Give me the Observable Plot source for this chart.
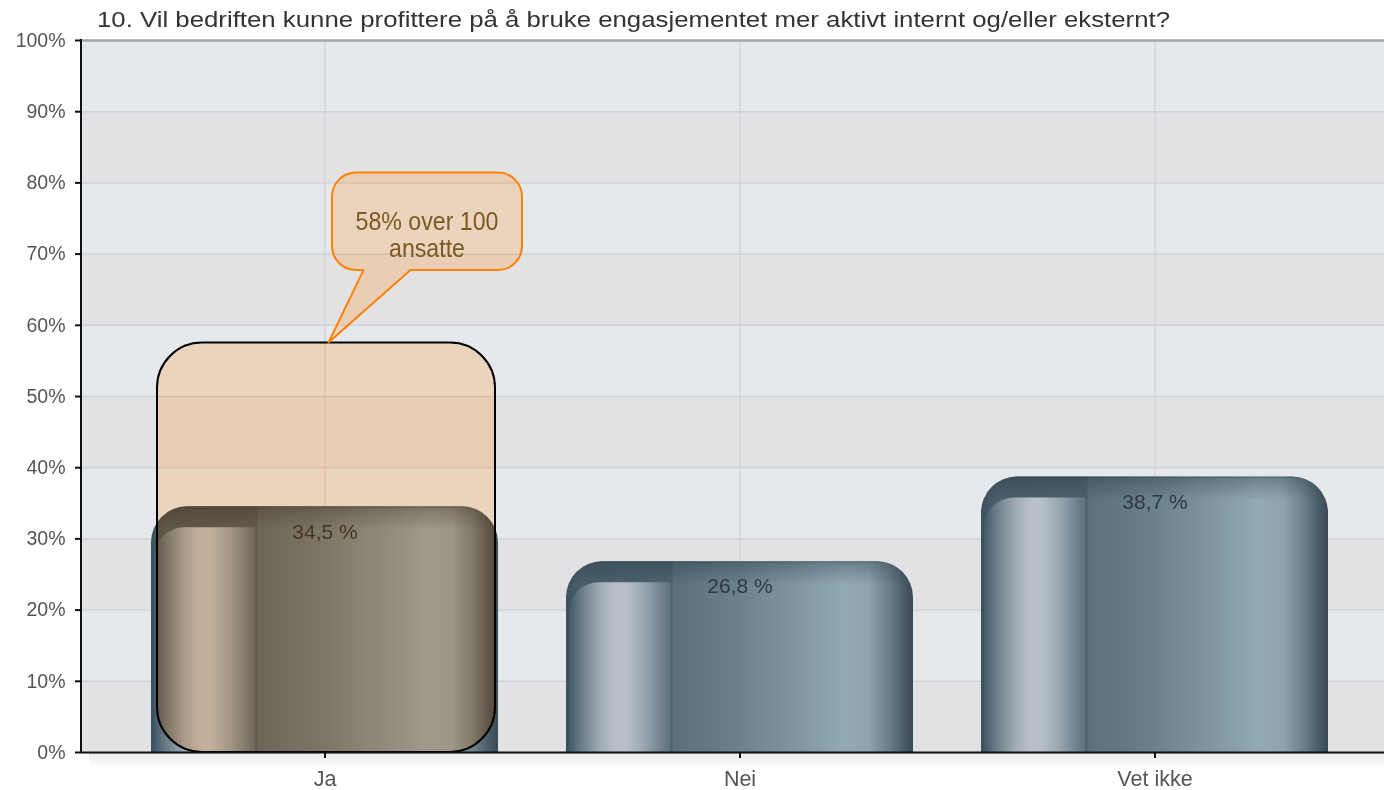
<!DOCTYPE html>
<html>
<head>
<meta charset="utf-8">
<script src="https://cdn.jsdelivr.net/npm/d3@7"></script>
<script src="https://cdn.jsdelivr.net/npm/@observablehq/plot@0.6"></script>
<style>
  html, body { margin: 0; padding: 0; background: #fff; }
  #chart svg { display: block; }
</style>
</head>
<body>
<div id="chart"></div>
<script>
// ---------- data ----------
const title = "10. Vil bedriften kunne profittere på å bruke engasjementet mer aktivt internt og/eller eksternt?";
const categories = ["Ja", "Nei", "Vet ikke"];
const values = [34.5, 26.8, 38.7];
const yTicks = [0, 10, 20, 30, 40, 50, 60, 70, 80, 90, 100];
const highlightCategory = ["Ja"];
const highlightValue = [57.5];
const calloutLines = ["58% over 100", "ansatte"];

// tables built from the arrays
const bars = categories.map((c, i) => ({cat: c, value: values[i]}));
const highlight = highlightCategory.map((c, i) => ({cat: c, value: highlightValue[i]}));
const bands = yTicks.slice(0, -1).map((lo, i) => ({lo, hi: yTicks[i + 1], blue: (lo / 10) % 2 === 1}));

// ---------- helpers ----------
const NS = "http://www.w3.org/2000/svg";
function el(name, attrs, parent) {
  const e = document.createElementNS(NS, name);
  for (const k in attrs) e.setAttribute(k, attrs[k]);
  if (parent) parent.appendChild(e);
  return e;
}
function grad(defs, id, stops, attrs) {
  const g = el("linearGradient", Object.assign({id}, attrs), defs);
  stops.forEach(([o, c, op]) => el("stop", {offset: o, "stop-color": c, "stop-opacity": op == null ? 1 : op}, g));
  return g;
}
function topRounded(x, y, w, h, r) {
  r = Math.min(r, w / 2, h);
  return `M${x},${y + h}V${y + r}A${r},${r} 0 0 1 ${x + r},${y}H${x + w - r}A${r},${r} 0 0 1 ${x + w},${y + r}V${y + h}Z`;
}
function topLeftRounded(x, y, w, h, r) {
  r = Math.min(r, w, h);
  return `M${x},${y + h}V${y + r}A${r},${r} 0 0 1 ${x + r},${y}H${x + w}V${y + h}Z`;
}
let uid = 0;

// tint layers: 0.9*backdrop + (30, 3, -23) gives the peach/olive overlay look
const tintLayers = [
  {fill: "#000", opacity: 0.1, blend: null},
  {fill: "rgb(30,3,0)", opacity: 1, blend: "plus-lighter"},
  {fill: "rgb(0,0,23)", opacity: 1, blend: "difference"}
];

// glossy bar renderer (uses the rects laid out by Plot's scales)
function glossy(index, scales, vals, dims, context, next) {
  const g = next(index, scales, vals, dims, context);
  const defs = el("defs", {}, null);
  g.insertBefore(defs, g.firstChild);
  grad(defs, "barMain", [
    [0, "#3b505d"], [0.04, "#4a5f6c"], [0.305, "#4e6370"], [0.31, "#5a707d"],
    [0.5, "#6b818d"], [0.66, "#7f96a2"], [0.8, "#92a9b6"], [0.87, "#8ea4b0"],
    [0.93, "#6b808c"], [0.97, "#4b5e6a"], [1, "#384a55"]
  ], {x1: 0, y1: 0, x2: 1, y2: 0});
  grad(defs, "barPanel", [
    [0, "#42576a"], [0.12, "#6a7c88"], [0.3, "#9ea9b2"], [0.45, "#b7c0c8"],
    [0.56, "#b8c1c9"], [0.75, "#97a5ae"], [0.9, "#738592"], [1, "#5d717e"]
  ], {x1: 0, y1: 0, x2: 1, y2: 0});
  for (const r of Array.from(g.querySelectorAll("rect"))) {
    const x = +r.getAttribute("x"), y = +r.getAttribute("y");
    const w = +r.getAttribute("width"), h = +r.getAttribute("height");
    const grp = el("g", {}, null);
    el("path", {d: topRounded(x, y, w, h, 36), fill: "url(#barMain)"}, grp);
    const sid = "barShade" + (uid++);
    grad(defs, sid, [[0, "#1e2c35", 0.55], [0.1, "#1e2c35", 0.3], [1, "#1e2c35", 0]],
      {gradientUnits: "userSpaceOnUse", x1: 0, y1: y, x2: 0, y2: y + 24});
    el("path", {d: topRounded(x, y, w, h, 36), fill: `url(#${sid})`}, grp);
    el("path", {d: topLeftRounded(x + 3, y + 21, w * 0.30 - 3, h - 21, 30), fill: "url(#barPanel)"}, grp);
    r.parentNode.replaceChild(grp, r);
  }
  return g;
}

// speech-bubble callout anchored on the highlight value
function callout(index, scales, vals, dims) {
  const {x, y} = scales;
  const bw = typeof x.bandwidth === "function" ? x.bandwidth() : 0;
  const g = el("g", {"aria-label": "callout"}, null);
  highlight.forEach((d) => {
    const cx = x(d.cat) + bw / 2, ty = y(d.value);
    const L = cx + 7.5, R = cx + 197.5, T = ty - 170, B = ty - 72.5, r = 24;
    const tipX = cx + 4, tailL = cx + 39, tailR = cx + 86;
    const p = `M${L + r},${T}H${R - r}A${r},${r} 0 0 1 ${R},${T + r}V${B - r}A${r},${r} 0 0 1 ${R - r},${B}` +
      `H${tailR}L${tipX},${ty}L${tailL},${B}H${L + r}A${r},${r} 0 0 1 ${L},${B - r}V${T + r}A${r},${r} 0 0 1 ${L + r},${T}Z`;
    tintLayers.forEach(t => {
      const a = {d: p, fill: t.fill, "fill-opacity": t.opacity};
      if (t.blend) a.style = "mix-blend-mode:" + t.blend;
      el("path", a, g);
    });
    el("path", {d: p, fill: "none", stroke: "#ff8000", "stroke-width": 2, "stroke-linejoin": "round"}, g);
    const mx = (L + R) / 2;
    const widths = [143, 76];
    calloutLines.forEach((line, i) => {
      const t = el("text", {
        x: mx, y: T + 48.5 + i * 26.5, "text-anchor": "middle", "dominant-baseline": "central",
        "font-family": "'Liberation Sans Narrow', 'Arial Narrow', 'Liberation Sans', Arial, sans-serif",
        "font-size": 25, fill: "#7b5a22", textLength: widths[i], lengthAdjust: "spacingAndGlyphs"
      }, g);
      t.textContent = line;
    });
  });
  return g;
}

function frameLines(index, scales, vals, dims) {
  const {y} = scales;
  const g = el("g", {"aria-label": "frame lines"}, null);
  const defs = el("defs", {}, g);
  grad(defs, "axisShadow", [[0, "#000", 0.09], [1, "#000", 0]], {x1: 0, y1: 0, x2: 0, y2: 1});
  el("rect", {x: dims.marginLeft + 8, y: y(0) + 1, width: dims.width - dims.marginLeft - 8, height: 14, fill: "url(#axisShadow)"}, g);
  el("line", {x1: dims.marginLeft, x2: dims.marginLeft, y1: y(0) + 1, y2: y(100) - 1, stroke: "#111", "stroke-width": 2}, g);
  return g;
}

function titleMark(index, scales, vals, dims) {
  const t = el("text", {
    x: 97, y: 26.5, "font-size": 22, fill: "#333", "text-anchor": "start",
    textLength: 1073, lengthAdjust: "spacingAndGlyphs"
  }, null);
  t.textContent = title;
  return t;
}

const overlayOpts = {x: "cat", y: "value", insetLeft: 6, insetRight: 3, rx: 45};

const chart = Plot.plot({
  width: 1384,
  height: 790,
  marginTop: 40,
  marginBottom: 38,
  marginLeft: 81,
  marginRight: 0,
  style: {fontFamily: "'Liberation Sans', Arial, Helvetica, sans-serif", fontSize: "20px", background: "#fff", overflow: "visible"},
  x: {type: "band", domain: categories, range: [116, 1363], paddingInner: 0.164, paddingOuter: 0.082},
  y: {domain: [0, 100]},
  marks: [
    Plot.rect(bands.filter(d => d.blue), {y1: "lo", y2: "hi", fill: "#e5e9ec"}),
    Plot.rect(bands.filter(d => !d.blue), {y1: "lo", y2: "hi", fill: "#e2e2e4"}),
    Plot.gridY(yTicks, {stroke: "#cfd2d5", strokeOpacity: 1, strokeWidth: 1.5}),
    Plot.gridX({stroke: "#d4d5d7", strokeOpacity: 1, strokeWidth: 1.5}),
    Plot.ruleY([100], {stroke: "#a4a6a8", strokeWidth: 2.5}),
    Plot.barY(bars, {x: "cat", y: "value", fill: "#6b818d", render: glossy}),
    Plot.text(bars, {x: "cat", y: "value", text: d => d.value.toFixed(1).replace(".", ",") + " %", dy: 25, fontSize: 21, fill: "#30383d"}),
    ...tintLayers.map(t => Plot.barY(highlight, Object.assign({}, overlayOpts, {fill: t.fill, fillOpacity: t.opacity}, t.blend ? {mixBlendMode: t.blend} : {}))),
    Plot.barY(highlight, Object.assign({}, overlayOpts, {fill: "none", stroke: "#000", strokeWidth: 2})),
    callout,
    Plot.ruleY([0], {stroke: "#111", strokeWidth: 2}),
    frameLines,
    Plot.axisY(yTicks, {tickFormat: d => d + "%", tickSize: 6, tickPadding: 10, fontSize: 19.5, fill: "#555", stroke: "#111", strokeWidth: 2}),
    Plot.axisX({tickSize: 6, tickPadding: 12, fontSize: 21.5, fill: "#555", stroke: "#111", strokeWidth: 2, label: null}),
    titleMark
  ]
});
document.getElementById("chart").appendChild(chart);
</script>
</body>
</html>
